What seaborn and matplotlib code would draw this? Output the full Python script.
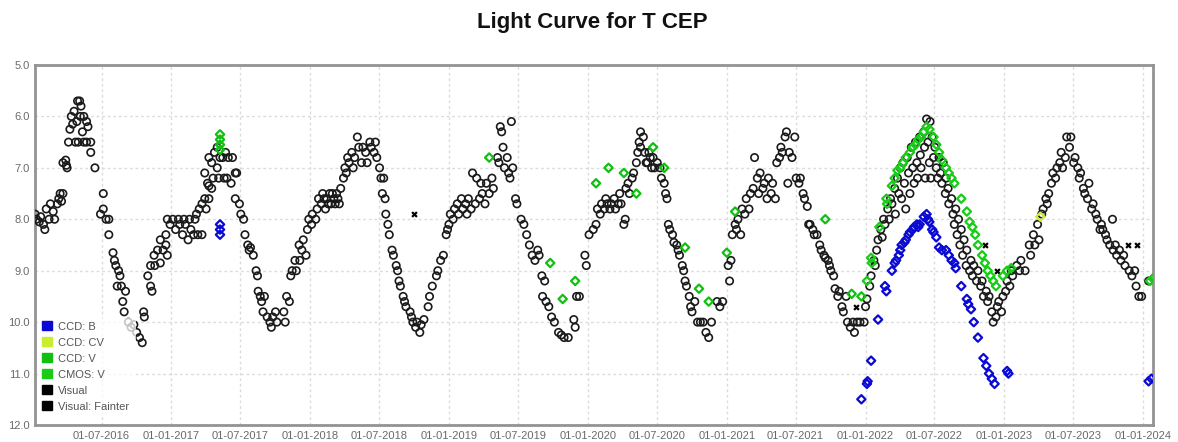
import matplotlib
matplotlib.use("Agg")
import numpy as np
import pandas as pd
import matplotlib.pyplot as plt
import matplotlib.dates as mdates
from matplotlib.patches import Patch
import seaborn as sns

# ---------------------------------------------------------------------------
# Observations of T Cep: (decimal year, magnitude)
# ---------------------------------------------------------------------------
visual_2016 = [
    (2016.02, 7.9), (2016.03, 8.0), (2016.05, 8.05), (2016.06, 7.95), (2016.08, 8.1),
    (2016.09, 8.2), (2016.10, 7.8), (2016.12, 8.0), (2016.13, 7.7), (2016.15, 7.85),
    (2016.16, 8.0), (2016.18, 7.7), (2016.19, 7.6), (2016.20, 7.5), (2016.21, 7.65),
    (2016.22, 7.5), (2016.22, 6.9), (2016.24, 6.85), (2016.25, 7.0), (2016.245, 6.95),
    (2016.26, 6.5), (2016.27, 6.25), (2016.28, 6.0), (2016.29, 6.15), (2016.30, 5.9),
    (2016.32, 6.1), (2016.325, 5.7), (2016.34, 5.7), (2016.345, 6.0), (2016.35, 5.8),
    (2016.36, 6.3), (2016.37, 6.0), (2016.31, 6.5), (2016.33, 6.5), (2016.37, 6.5),
    (2016.39, 6.5), (2016.42, 6.5), (2016.39, 6.1), (2016.40, 6.2), (2016.42, 6.7),
    (2016.45, 7.0), (2016.51, 7.5), (2016.49, 7.9), (2016.51, 7.8), (2016.53, 8.0),
    (2016.55, 8.0), (2016.55, 8.3), (2016.58, 8.65), (2016.59, 8.8), (2016.60, 8.9),
    (2016.62, 9.0), (2016.63, 9.1), (2016.61, 9.3), (2016.64, 9.3), (2016.67, 9.4),
    (2016.65, 9.6), (2016.66, 9.8), (2016.69, 10.0), (2016.71, 10.1), (2016.73, 10.05),
    (2016.75, 10.2), (2016.77, 10.3), (2016.79, 10.4),
]

visual_2017 = [
    (2016.80, 9.8), (2016.805, 9.9), (2016.83, 9.1), (2016.85, 9.3), (2016.86, 9.4),
    (2016.85, 8.9), (2016.88, 8.9), (2016.875, 8.7), (2016.90, 8.6), (2016.92, 8.4),
    (2016.92, 8.85), (2016.94, 8.6), (2016.96, 8.5), (2016.97, 8.7), (2016.96, 8.3),
    (2016.97, 8.0), (2016.99, 8.1), (2017.01, 8.0), (2017.03, 8.2), (2017.05, 8.0),
    (2017.06, 8.1), (2017.08, 8.3), (2017.09, 8.0), (2017.10, 8.1), (2017.12, 8.4),
    (2017.13, 8.0), (2017.14, 8.2), (2017.16, 8.3), (2017.18, 7.9), (2017.19, 8.3),
    (2017.22, 8.3), (2017.17, 8.0), (2017.20, 7.8), (2017.22, 7.7), (2017.24, 7.6),
    (2017.25, 7.8), (2017.27, 7.6), (2017.24, 7.1), (2017.26, 7.3), (2017.27, 7.35),
    (2017.29, 7.4), (2017.30, 7.2), (2017.27, 6.8), (2017.29, 6.9), (2017.31, 6.7),
    (2017.33, 7.0), (2017.33, 6.6), (2017.34, 7.2), (2017.35, 6.8), (2017.37, 6.8),
    (2017.38, 7.2), (2017.39, 6.7), (2017.40, 7.2), (2017.41, 6.8), (2017.43, 7.3),
    (2017.44, 6.8), (2017.46, 7.1), (2017.47, 7.1), (2017.46, 7.6), (2017.49, 7.7),
    (2017.50, 7.9), (2017.52, 8.0), (2017.53, 8.3), (2017.55, 8.5), (2017.56, 8.6),
    (2017.57, 8.55), (2017.59, 8.7), (2017.61, 9.0), (2017.62, 9.1), (2017.625, 9.4),
    (2017.64, 9.5), (2017.65, 9.6), (2017.66, 9.8), (2017.67, 9.5), (2017.69, 9.9),
    (2017.71, 10.0), (2017.72, 10.1), (2017.73, 9.9), (2017.75, 9.8), (2017.76, 10.0),
    (2017.81, 9.8), (2017.82, 10.0),
]

visual_2018 = [
    (2017.83, 9.5), (2017.85, 9.6), (2017.86, 9.1), (2017.87, 9.0), (2017.89, 8.8),
    (2017.90, 9.0), (2017.92, 8.5), (2017.925, 8.8), (2017.94, 8.6), (2017.95, 8.4),
    (2017.97, 8.7), (2017.98, 8.2), (2017.99, 8.0), (2018.01, 8.1), (2018.015, 7.9),
    (2018.04, 8.0), (2018.05, 7.8), (2018.06, 7.6), (2018.08, 7.7), (2018.09, 7.5),
    (2018.10, 7.6), (2018.11, 7.8), (2018.12, 7.6), (2018.13, 7.7), (2018.14, 7.5),
    (2018.15, 7.7), (2018.16, 7.5), (2018.17, 7.6), (2018.18, 7.7), (2018.19, 7.5),
    (2018.20, 7.6), (2018.21, 7.7), (2018.22, 7.4), (2018.24, 7.2), (2018.25, 7.0),
    (2018.27, 6.8), (2018.26, 7.1), (2018.28, 6.9), (2018.30, 6.7), (2018.31, 7.0),
    (2018.32, 6.8), (2018.34, 6.4), (2018.35, 6.6), (2018.37, 6.9), (2018.38, 6.6),
    (2018.40, 6.7), (2018.41, 6.9), (2018.43, 6.5), (2018.44, 6.6), (2018.46, 6.7),
    (2018.47, 6.5), (2018.48, 6.8), (2018.50, 7.0), (2018.51, 7.2), (2018.53, 7.2),
    (2018.52, 7.5), (2018.54, 7.6), (2018.545, 7.9), (2018.56, 8.1), (2018.57, 8.3),
    (2018.59, 8.6), (2018.60, 8.7), (2018.62, 8.9), (2018.63, 9.0), (2018.64, 9.2),
    (2018.65, 9.3), (2018.67, 9.5), (2018.68, 9.6), (2018.69, 9.7), (2018.72, 9.8),
    (2018.73, 9.9), (2018.74, 10.0), (2018.76, 10.1), (2018.77, 10.0), (2018.79, 10.2),
    (2018.80, 10.05), (2018.82, 9.95),
]

visual_2019 = [
    (2018.85, 9.7), (2018.86, 9.5), (2018.88, 9.3), (2018.91, 9.1), (2018.92, 9.0),
    (2018.94, 8.8), (2018.96, 8.7), (2018.98, 8.3), (2018.99, 8.2), (2019.00, 8.1),
    (2019.01, 7.9), (2019.03, 8.0), (2019.04, 7.8), (2019.06, 7.7), (2019.07, 7.9),
    (2019.09, 7.6), (2019.10, 7.8), (2019.12, 7.7), (2019.13, 7.9), (2019.14, 7.6),
    (2019.16, 7.8), (2019.17, 7.1), (2019.19, 7.7), (2019.20, 7.2), (2019.22, 7.6),
    (2019.23, 7.3), (2019.24, 7.5), (2019.26, 7.7), (2019.27, 7.3), (2019.29, 7.5),
    (2019.31, 7.2), (2019.32, 7.4), (2019.35, 6.8), (2019.36, 6.9), (2019.37, 6.2),
    (2019.38, 6.3), (2019.39, 6.6), (2019.40, 7.0), (2019.42, 6.8), (2019.43, 7.1),
    (2019.45, 6.1), (2019.44, 7.2), (2019.46, 7.0), (2019.48, 7.6), (2019.49, 7.7),
    (2019.52, 8.0), (2019.54, 8.1), (2019.56, 8.3), (2019.58, 8.5), (2019.60, 8.7),
    (2019.62, 8.8), (2019.64, 8.6), (2019.65, 8.7), (2019.67, 9.1), (2019.69, 9.2),
    (2019.675, 9.5), (2019.70, 9.6), (2019.72, 9.7), (2019.74, 9.9), (2019.76, 10.0),
    (2019.79, 10.2), (2019.81, 10.25), (2019.83, 10.3), (2019.86, 10.3),
]

visual_2020 = [
    (2019.90, 9.95), (2019.91, 10.1), (2019.92, 9.5), (2019.94, 9.5), (2019.98, 8.7),
    (2019.99, 8.9), (2020.01, 8.3), (2020.04, 8.2), (2020.06, 8.1), (2020.07, 7.8),
    (2020.09, 7.9), (2020.10, 7.7), (2020.12, 7.8), (2020.13, 7.6), (2020.14, 7.7),
    (2020.16, 7.8), (2020.17, 7.7), (2020.19, 7.6), (2020.20, 7.8), (2020.22, 7.7),
    (2020.23, 7.5), (2020.24, 7.7), (2020.26, 8.1), (2020.27, 8.0), (2020.275, 7.4),
    (2020.29, 7.3), (2020.30, 7.5), (2020.32, 7.2), (2020.33, 7.1), (2020.35, 6.9),
    (2020.36, 6.7), (2020.37, 6.5), (2020.38, 6.3), (2020.38, 6.6), (2020.40, 6.4),
    (2020.41, 6.7), (2020.42, 6.9), (2020.43, 6.9), (2020.44, 6.7), (2020.45, 6.8),
    (2020.46, 7.0), (2020.47, 6.8), (2020.48, 7.0), (2020.50, 6.9), (2020.52, 7.0),
    (2020.53, 7.2), (2020.55, 7.3), (2020.56, 7.5), (2020.57, 7.6), (2020.58, 8.1),
    (2020.59, 8.2), (2020.61, 8.3), (2020.62, 8.45), (2020.64, 8.5), (2020.65, 8.6),
    (2020.66, 8.7), (2020.68, 8.9), (2020.69, 9.0), (2020.70, 9.2), (2020.71, 9.3),
    (2020.73, 9.5), (2020.74, 9.7), (2020.75, 9.8), (2020.77, 9.6), (2020.79, 10.0),
    (2020.81, 10.0), (2020.83, 10.0), (2020.85, 10.2), (2020.87, 10.3), (2020.89, 10.0),
]

visual_2021 = [
    (2020.93, 9.6), (2020.95, 9.7), (2020.97, 9.6), (2021.01, 8.9), (2021.02, 9.2),
    (2021.03, 8.8), (2021.04, 8.3), (2021.06, 8.1), (2021.07, 8.2), (2021.08, 8.0),
    (2021.10, 8.3), (2021.11, 7.8), (2021.13, 7.9), (2021.14, 7.6), (2021.16, 7.8),
    (2021.17, 7.5), (2021.19, 7.4), (2021.20, 6.8), (2021.22, 7.2), (2021.23, 7.5),
    (2021.24, 7.1), (2021.26, 7.4), (2021.27, 7.3), (2021.29, 7.6), (2021.30, 7.2),
    (2021.32, 7.5), (2021.33, 7.3), (2021.35, 7.6), (2021.36, 6.9), (2021.38, 6.8),
    (2021.39, 6.6), (2021.40, 6.7), (2021.42, 6.4), (2021.43, 6.3), (2021.44, 7.3),
    (2021.45, 6.7), (2021.47, 6.8), (2021.49, 6.4), (2021.50, 7.2), (2021.52, 7.3),
    (2021.53, 7.2), (2021.55, 7.5), (2021.56, 7.6), (2021.58, 7.75), (2021.59, 8.1),
    (2021.60, 8.1), (2021.62, 8.2), (2021.63, 8.3), (2021.65, 8.3), (2021.67, 8.5),
    (2021.68, 8.6), (2021.70, 8.7), (2021.71, 8.75), (2021.73, 8.8), (2021.74, 8.9),
    (2021.75, 9.0), (2021.77, 9.1), (2021.78, 9.35), (2021.80, 9.5), (2021.81, 9.4),
    (2021.83, 9.7), (2021.84, 9.8), (2021.86, 9.5), (2021.87, 10.0), (2021.89, 10.1),
    (2021.91, 10.0), (2021.92, 10.2), (2021.94, 10.0), (2021.96, 10.0), (2021.99, 10.0),
]

visual_2022 = [
    (2022.00, 9.7), (2022.01, 9.55), (2022.03, 9.3), (2022.04, 9.1), (2022.06, 8.8),
    (2022.07, 8.9), (2022.08, 8.6), (2022.09, 8.4), (2022.11, 8.2), (2022.12, 8.35),
    (2022.13, 8.0), (2022.14, 8.1), (2022.16, 7.8), (2022.17, 8.0), (2022.18, 7.6),
    (2022.19, 7.7), (2022.21, 7.4), (2022.215, 7.9), (2022.23, 7.2), (2022.24, 7.5),
    (2022.25, 7.0), (2022.26, 7.6), (2022.27, 6.9), (2022.28, 7.3), (2022.29, 7.8),
    (2022.30, 6.8), (2022.31, 7.1), (2022.32, 7.5), (2022.33, 6.6), (2022.34, 7.0),
    (2022.35, 7.3), (2022.36, 6.5), (2022.37, 6.9), (2022.375, 7.2), (2022.39, 6.4),
    (2022.395, 6.75), (2022.40, 7.0), (2022.42, 6.3), (2022.425, 6.6), (2022.43, 7.2),
    (2022.44, 6.05), (2022.45, 6.5), (2022.46, 6.9), (2022.465, 6.1), (2022.47, 7.2),
    (2022.48, 6.4), (2022.49, 6.8), (2022.50, 6.6), (2022.51, 7.0), (2022.52, 7.2),
    (2022.53, 6.8), (2022.54, 7.1), (2022.55, 7.3), (2022.56, 6.9), (2022.575, 7.5),
    (2022.58, 7.2), (2022.595, 7.4), (2022.60, 7.7), (2022.62, 7.6), (2022.63, 7.9),
    (2022.64, 8.1), (2022.65, 7.8), (2022.66, 8.3), (2022.67, 8.0), (2022.68, 8.5),
    (2022.69, 8.2), (2022.70, 8.7), (2022.71, 8.4), (2022.725, 8.9), (2022.73, 8.6),
    (2022.75, 9.0), (2022.76, 8.8), (2022.77, 9.1), (2022.78, 8.9), (2022.80, 9.2),
    (2022.81, 9.0), (2022.83, 9.3), (2022.84, 9.2), (2022.85, 9.5), (2022.87, 9.4),
    (2022.88, 9.6), (2022.89, 9.5), (2022.91, 9.8), (2022.92, 10.0), (2022.94, 9.9),
    (2022.95, 9.7), (2022.96, 9.6), (2022.98, 9.8), (2022.99, 9.5),
]

visual_2023 = [
    (2023.01, 9.4), (2023.02, 9.2), (2023.04, 9.3), (2023.05, 9.0), (2023.06, 9.1),
    (2023.09, 8.9), (2023.11, 9.0), (2023.12, 8.8), (2023.15, 9.0), (2023.18, 8.5),
    (2023.19, 8.7), (2023.21, 8.3), (2023.22, 8.5), (2023.24, 8.1), (2023.25, 8.4),
    (2023.27, 7.9), (2023.28, 7.8), (2023.30, 7.6), (2023.31, 7.7), (2023.32, 7.5),
    (2023.34, 7.3), (2023.35, 7.1), (2023.37, 7.2), (2023.38, 7.0), (2023.40, 6.9),
    (2023.41, 6.7), (2023.42, 7.0), (2023.44, 6.8), (2023.45, 6.4), (2023.47, 6.6),
    (2023.48, 6.4), (2023.50, 6.9), (2023.51, 6.8), (2023.53, 7.0), (2023.54, 7.2),
    (2023.55, 7.1), (2023.57, 7.4), (2023.58, 7.5), (2023.60, 7.6), (2023.61, 7.3),
    (2023.63, 7.8), (2023.64, 7.7), (2023.66, 7.9), (2023.67, 8.0), (2023.69, 8.2),
    (2023.70, 8.1), (2023.71, 8.2), (2023.73, 8.3), (2023.74, 8.4), (2023.76, 8.5),
    (2023.78, 8.0), (2023.785, 8.6), (2023.80, 8.5), (2023.81, 8.7), (2023.83, 8.6),
    (2023.84, 8.8), (2023.86, 8.7), (2023.87, 8.9), (2023.90, 9.0), (2023.92, 9.1),
    (2023.94, 9.0), (2023.95, 9.3), (2023.97, 9.5), (2023.99, 9.5), (2024.04, 9.2),
]

visual_fainter = [
    (2018.75, 7.9), (2021.93, 9.7), (2022.86, 8.5), (2022.95, 9.0),
    (2023.89, 8.5), (2023.96, 8.5),
]

ccd_b = [
    (2017.35, 8.1), (2017.35, 8.2), (2017.35, 8.3),
    (2021.97, 11.5), (2022.01, 11.2), (2022.015, 11.15), (2022.04, 10.75),
    (2022.09, 9.95), (2022.14, 9.3), (2022.15, 9.4), (2022.19, 9.0),
    (2022.21, 8.85), (2022.22, 8.8), (2022.24, 8.7), (2022.25, 8.6),
    (2022.26, 8.5), (2022.28, 8.45), (2022.29, 8.4), (2022.31, 8.3),
    (2022.32, 8.25), (2022.34, 8.2), (2022.35, 8.15), (2022.37, 8.1),
    (2022.38, 8.15), (2022.39, 8.1), (2022.42, 7.95), (2022.44, 7.9),
    (2022.45, 8.0), (2022.46, 8.05), (2022.48, 8.2), (2022.49, 8.25),
    (2022.51, 8.35), (2022.53, 8.55), (2022.55, 8.6), (2022.58, 8.6),
    (2022.60, 8.7), (2022.62, 8.8), (2022.64, 8.85), (2022.65, 8.95),
    (2022.69, 9.3), (2022.73, 9.55), (2022.74, 9.65), (2022.76, 9.75),
    (2022.78, 10.0), (2022.81, 10.3), (2022.85, 10.7), (2022.87, 10.85),
    (2022.89, 11.0), (2022.91, 11.1), (2022.93, 11.2), (2023.02, 10.95),
    (2023.03, 11.0), (2024.04, 11.15), (2024.06, 11.1),
]

ccd_cv = [(2023.26, 7.95)]

ccd_v = [
    (2017.35, 6.35), (2017.35, 6.45), (2017.35, 6.55), (2017.35, 6.65),
    (2019.29, 6.8), (2019.73, 8.85), (2019.82, 9.55), (2019.91, 9.2),
    (2020.06, 7.3), (2020.15, 7.0), (2020.26, 7.1), (2020.35, 7.5),
    (2020.47, 6.6), (2020.55, 7.0), (2020.70, 8.55), (2020.80, 9.35),
    (2020.87, 9.6), (2021.00, 8.65), (2021.06, 7.85), (2021.71, 8.0),
    (2021.90, 9.45), (2021.97, 9.5),
]

cmos_v = [
    (2022.01, 9.2), (2022.04, 8.75), (2022.045, 8.85), (2022.10, 8.15),
    (2022.15, 7.6), (2022.155, 7.7), (2022.19, 7.35), (2022.21, 7.2),
    (2022.23, 7.05), (2022.25, 7.0), (2022.27, 6.9), (2022.29, 6.8),
    (2022.32, 6.7), (2022.34, 6.6), (2022.36, 6.55), (2022.38, 6.45),
    (2022.40, 6.4), (2022.42, 6.3), (2022.44, 6.2), (2022.46, 6.25),
    (2022.49, 6.4), (2022.51, 6.55), (2022.53, 6.7), (2022.55, 6.85),
    (2022.58, 7.0), (2022.60, 7.1), (2022.62, 7.2), (2022.64, 7.3),
    (2022.69, 7.6), (2022.73, 7.85), (2022.75, 8.05), (2022.77, 8.15),
    (2022.79, 8.3), (2022.81, 8.5), (2022.84, 8.7), (2022.86, 8.85),
    (2022.88, 9.0), (2022.90, 9.1), (2022.92, 9.2), (2022.94, 9.3),
    (2022.99, 9.1), (2023.02, 9.0), (2023.05, 8.95),
    (2024.05, 9.2), (2024.07, 9.15),
]

tick_dates = pd.date_range("2016-07-01", "2024-01-01", freq="6MS")
mag_ticks = [5.0, 6.0, 7.0, 8.0, 9.0, 10.0, 11.0, 12.0]


def to_frame(pairs):
    """Turn (decimal year, magnitude) pairs into a frame with real dates."""
    years = np.array([p[0] for p in pairs])
    mags = np.array([p[1] for p in pairs])
    dates = []
    for y in years:
        yr = int(np.floor(y))
        start = pd.Timestamp(yr, 1, 1)
        end = pd.Timestamp(yr + 1, 1, 1)
        dates.append(start + (end - start) * (y - yr))
    return pd.DataFrame({"date": dates, "mag": mags})


visual = (visual_2016 + visual_2017 + visual_2018 + visual_2019
          + visual_2020 + visual_2021 + visual_2022 + visual_2023)

sns.set_theme(style="white")
plt.rcParams["font.family"] = ["Liberation Sans", "DejaVu Sans"]

fig = plt.figure(figsize=(11.78, 4.42), dpi=100)
ax = fig.add_axes([0.0297, 0.0385, 0.949, 0.8145])

colors = {
    "CCD: B": "#0a0ad2",
    "CCD: CV": "#c8ee30",
    "CCD: V": "#10c010",
    "CMOS: V": "#18cc18",
    "Visual": "#000000",
    "Visual: Fainter": "#000000",
}

# Visual estimates: open circles
sns.scatterplot(data=to_frame(visual), x="date", y="mag", ax=ax, marker="o",
                s=28, facecolor="none", edgecolor="#1a1a1a", color="#1a1a1a",
                linewidth=1.2, zorder=3, legend=False)

# Fainter-than limits: small crosses
sns.scatterplot(data=to_frame(visual_fainter), x="date", y="mag", ax=ax,
                marker="x", s=12, color="black", linewidth=1.6, zorder=3,
                legend=False)

# Instrumental photometry: open diamonds
for pairs, name in [(ccd_v, "CCD: V"), (cmos_v, "CMOS: V"),
                    (ccd_cv, "CCD: CV"), (ccd_b, "CCD: B")]:
    sns.scatterplot(data=to_frame(pairs), x="date", y="mag", ax=ax, marker="D",
                    s=18, facecolor="none", edgecolor=colors[name],
                    color=colors[name], linewidth=1.6, zorder=4, legend=False)

# Axes: inverted magnitude scale, dated x axis
ax.set_xlim(pd.Timestamp("2016-01-08"), pd.Timestamp("2024-01-27"))
ax.set_ylim(12.0, 5.0)
ax.set_xticks(tick_dates)
ax.xaxis.set_major_formatter(mdates.DateFormatter("%d-%m-%Y"))
ax.set_yticks(mag_ticks)
ax.set_yticklabels([f"{m:.1f}" for m in mag_ticks])
ax.set_xlabel("")
ax.set_ylabel("")
ax.tick_params(axis="both", labelsize=8, colors="#6a6a6a", length=0, pad=4)

ax.grid(True, color="#dcdcdc", linestyle=(0, (2, 2)), linewidth=1.0, zorder=0)
ax.set_axisbelow(True)
for spine in ax.spines.values():
    spine.set_visible(True)
    spine.set_color("#939393")
    spine.set_linewidth(2.0)

# Legend with colour swatches
handles = [Patch(facecolor=c, edgecolor=c) for c in colors.values()]
leg = ax.legend(handles, list(colors.keys()), loc="lower left",
                bbox_to_anchor=(0.003, 0.028, 0.087, 0.283), mode="expand",
                frameon=True, facecolor="white", edgecolor="none",
                framealpha=0.75, fontsize=8, handlelength=0.9,
                handleheight=0.9, handletextpad=0.6, labelspacing=0.5,
                borderaxespad=0, borderpad=0.3)
leg.set_zorder(5)
for t in leg.get_texts():
    t.set_color("#555555")

fig.text(0.503, 0.95, "Light Curve for T CEP", ha="center", va="center",
         fontsize=16, fontweight="bold", color="#111111")

fig.savefig("out.png", dpi=100)
